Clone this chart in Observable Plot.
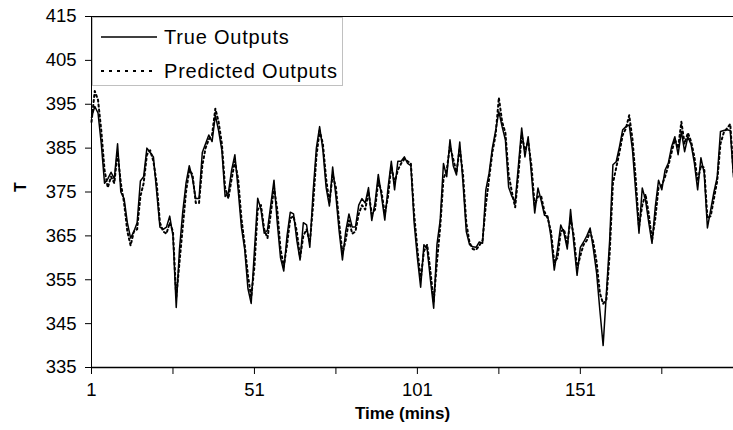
<!DOCTYPE html>
<html>
<head>
<meta charset="utf-8">
<script src="https://cdn.jsdelivr.net/npm/d3@7"></script>
<script src="https://cdn.jsdelivr.net/npm/@observablehq/plot@0.6"></script>
<style>
  html, body { margin: 0; padding: 0; background: #fff; }
  #wrap { position: relative; width: 733px; height: 430px; font-family: "Liberation Sans", Arial, sans-serif; }
  #legend { position: absolute; left: 92px; top: 17px; width: 251px; height: 69px; background: #fff; border: 1px solid #c0c0c0; box-sizing: border-box; }
  #legend .row { position: absolute; left: 0; height: 24px; display: flex; align-items: center; }
  #legend .row span { font-size: 20px; letter-spacing: 0.8px; color: #000; margin-left: 5px; }
</style>
</head>
<body>
<div id="wrap"></div>
<script>
// Series values (index 1..198, minutes)
const trueOutputs = [
  392, 394.5, 393, 386, 377, 378, 379.5, 378, 386, 375,
  373.5, 368, 364.5, 366, 368, 377.5, 378.5, 385, 384, 383,
  375, 367, 366.5, 367, 369.5, 365, 348.7, 362, 370.5, 377,
  381, 378, 373.5, 373.5, 384, 386, 388, 386.5, 392.5, 389,
  384.5, 374, 374.8, 380, 383.5, 375.5, 367, 362, 353, 349.6,
  361.7, 373.6, 371, 365.6, 366.3, 372, 377.7, 368, 360, 357,
  365, 370.4, 370, 364, 359.5, 368, 367.5, 362.4, 375, 385,
  389.9, 384.6, 376, 371.8, 380.7, 374, 366, 359.5, 366, 370,
  367, 367, 372, 373.5, 372.5, 376, 368.5, 372.5, 379, 374,
  368.6, 376, 382, 375.5, 382, 382, 383, 381.5, 381, 368,
  360, 353.3, 363, 362, 355, 348.5, 363, 368.6, 381.5, 378.5,
  386.9, 381, 378.9, 386.4, 377, 366, 363, 362.5, 362.4, 363.6,
  363.3, 375.5, 379.3, 385, 389, 393.3, 389.9, 386.9, 376.1, 374,
  372.7, 381, 389.6, 383, 387.6, 379, 370.2, 375.9, 373, 369.7,
  369.5, 364.7, 357.2, 362, 367.5, 365.6, 362, 371, 363.3, 356,
  362.4, 363.6, 365, 366.8, 362, 356.5, 348, 340, 352, 364,
  381.2, 381.9, 385.3, 389.2, 389.9, 390.3, 384.6, 375, 365.6, 375.9,
  373.2, 368, 363.3, 371.6, 377.7, 375.5, 380, 381.6, 385.3, 387.6,
  383.5, 388.8, 384.2, 387.6, 385.8, 381.6, 375.5, 382.8, 379.3, 366.8,
  370.9, 375, 378.4, 388.8, 389, 389.2, 389, 378.4
];
const predictedOutputs = [
  391, 398, 396, 389, 380, 376, 378.5, 377, 384, 377,
  372.5, 366, 362.8, 366, 366.5, 374, 377, 383.5, 384.5, 382,
  377, 368, 366, 365.5, 368, 366, 351, 359, 367, 375,
  380, 379, 372.5, 372.5, 381, 385, 387, 388, 394, 391,
  386, 376, 373.5, 378, 382, 378, 369, 363, 356, 351,
  358, 371, 372, 366.5, 364.5, 370, 376, 371, 362, 358,
  363, 369, 369.5, 366, 360, 365, 366.5, 363.5, 372, 383,
  389, 386, 378, 372.5, 379, 376, 368, 361, 364, 368.5,
  365.5, 366, 370, 372, 371, 375, 370, 371, 377.5, 375,
  370, 374, 381, 377, 380, 381.5, 382.5, 382, 381.5, 370,
  362, 355, 361.5, 363, 357, 350, 359, 367, 378, 380,
  385.5, 382.5, 379.5, 385, 379, 368, 363.5, 362, 361.8, 362.8,
  364, 372, 378, 384, 388, 396.5, 391, 388.5, 379, 375,
  371.5, 379, 388, 384.5, 386.5, 381, 372, 374, 374, 370.5,
  369, 366, 359, 360, 366, 366.5, 363, 369, 365, 357.5,
  360.5, 363, 364, 366, 363.5, 359, 352, 349.5, 350.5, 361,
  377, 380.5, 384, 388, 389.5, 392.5, 387, 378, 367, 372,
  374.5, 370, 364, 369, 376, 376.5, 378.5, 381, 384, 387,
  385, 391, 386, 388.5, 386.5, 383, 377.5, 381, 380.5, 369,
  369.5, 373.5, 377.5, 386, 388.5, 389.5, 390.5, 379.5
];
const yTicks = [335, 345, 355, 365, 375, 385, 395, 405, 415];
const xTicks = [1, 26, 51, 76, 101, 126, 151, 176];
const xLabels = [1, 51, 101, 151];
const seriesNames = ["True Outputs", "Predicted Outputs"];

const time = trueOutputs.map((_, i) => i + 1);
const rowsTrue = time.map((t, i) => ({t, v: trueOutputs[i]}));
const rowsPred = time.map((t, i) => ({t, v: predictedOutputs[i]}));

const chart = Plot.plot({
  width: 733,
  height: 430,
  marginLeft: 91,
  marginRight: 0,
  marginTop: 16,
  marginBottom: 63,
  style: { fontFamily: "'Liberation Sans', Arial, sans-serif", fontSize: "18px", background: "#fff", color: "#000", overflow: "visible" },
  x: { domain: [1, 198] },
  y: { domain: [335, 415] },
  marks: [
    Plot.line(rowsPred, { x: "t", y: "v", stroke: "#000", strokeWidth: 2, strokeDasharray: "2,3", strokeLinejoin: "round" }),
    Plot.line(rowsTrue, { x: "t", y: "v", stroke: "#000", strokeWidth: 1.5, strokeLinejoin: "round" }),
    Plot.ruleY([415], { stroke: "#000", strokeWidth: 1 }),
    Plot.ruleY([335], { stroke: "#000", strokeWidth: 1.4 }),
    Plot.ruleX([1], { stroke: "#000", strokeWidth: 1 }),
    Plot.axisY({ ticks: yTicks, tickSize: 6, tickPadding: 9, tickFormat: d => d, label: null, fontSize: 18.5 }),
    Plot.axisX({ ticks: xTicks, tickSize: 7, tickPadding: 8, tickFormat: d => xLabels.includes(d) ? String(d) : "", label: null, fontSize: 18.5 }),
    Plot.text(["Time (mins)"], { frameAnchor: "bottom", dx: -10, dy: 51, fontWeight: "bold", fontSize: 17, fill: "#000" }),
    Plot.text(["T"], { frameAnchor: "left", dx: -71, rotate: -90, fontWeight: "bold", fontSize: 16, fill: "#000" })
  ]
});

const wrap = document.getElementById("wrap");
wrap.appendChild(chart);

// Legend overlay
const legend = document.createElement("div");
legend.id = "legend";
const dashes = ["none", "3,5"];
const widths = [1.5, 2];
seriesNames.forEach((name, i) => {
  const row = document.createElement("div");
  row.className = "row";
  row.style.top = (i === 0 ? 7 : 41) + "px";
  row.innerHTML = `<svg width="66" height="24" style="display:block"><line x1="8" x2="64" y1="12" y2="12" stroke="#000" stroke-width="${widths[i]}" stroke-dasharray="${dashes[i]}"/></svg><span>${name}</span>`;
  legend.appendChild(row);
});
wrap.appendChild(legend);
</script>
</body>
</html>
